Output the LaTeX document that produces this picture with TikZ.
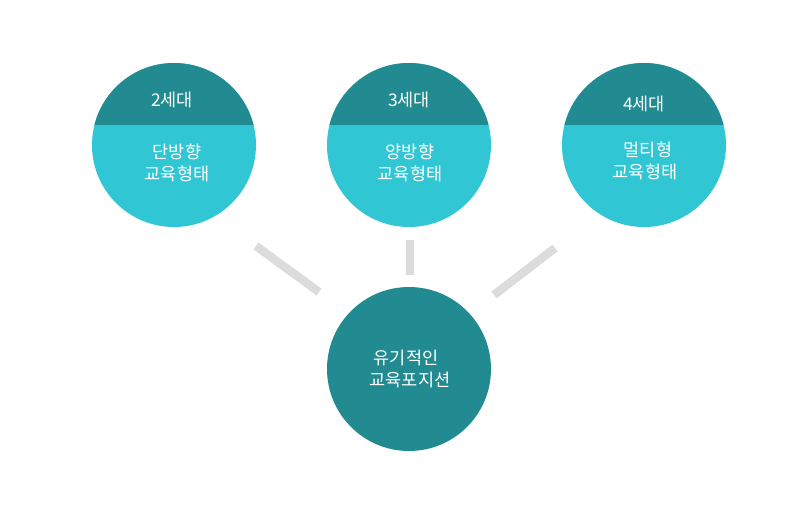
\documentclass[tikz,border=0pt]{standalone}
\usepackage{fontspec}
\setmainfont{Noto Sans CJK KR}
\definecolor{tealdark}{HTML}{228B92}
\definecolor{teallight}{HTML}{31C6D4}
\definecolor{bargray}{HTML}{DCDCDC}
\tikzset{
  gencircle/.style={circle,minimum size=164,inner sep=0pt,fill=teallight,
    path picture={\fill[tealdark] (path picture bounding box.north west) rectangle ([yshift=20pt]path picture bounding box.east);}},
  coreball/.style={circle,minimum size=164,inner sep=0pt,fill=tealdark},
  lbl/.style={text=white,align=center,font=\fontsize{17.5}{22}\selectfont},
  bar/.style={bargray,line width=8.5pt}
}
\begin{document}
\begin{tikzpicture}[x=1pt,y=-1pt]
        \useasboundingbox (0,0) rectangle (812,514);
        \node[gencircle] (gen2) at (174,145) {};
        \node[gencircle] (gen3) at (409,145) {};
        \node[gencircle] (gen4) at (644,145) {};
        \node[coreball] (core) at (409,369) {};
        \node[lbl] (gen2top) at (172,100) {2세대};
        \node[lbl] (gen3top) at (409,100) {3세대};
        \node[lbl] (gen4top) at (644,104) {4세대};
        \node[lbl] (gen2txt) at (177,163) {단방향\\교육형태};
        \node[lbl] (gen3txt) at (410,163) {양방향\\교육형태};
        \node[lbl] (gen4txt) at (645,161) {\hspace*{6pt}멀티형\\교육형태};
        \node[lbl] (coretxt) at (410,369) {유기적인\hspace*{8pt}\\교육포지션};
        \coordinate (barLa) at (256,246);
        \coordinate (barLb) at (319,292);
        \coordinate (barMa) at (410,240);
        \coordinate (barMb) at (410,275);
        \coordinate (barRa) at (555,248);
        \coordinate (barRb) at (494,295);
        \draw[bar] (barLa)--(barLb);
        \draw[bar] (barMa)--(barMb);
        \draw[bar] (barRa)--(barRb);
      \end{tikzpicture}
\end{document}
